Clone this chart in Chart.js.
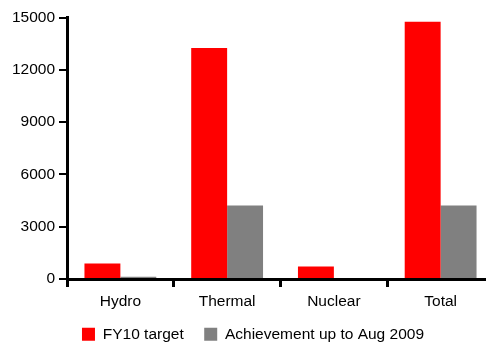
<!DOCTYPE html>
<html>
<head>
<meta charset="utf-8">
<script src="https://cdn.jsdelivr.net/npm/chart.js@4.4.0/dist/chart.umd.min.js"></script>
<style>
  html, body { margin: 0; padding: 0; background: #fff; overflow: hidden; }
  #wrap { width: 486px; height: 347px; overflow: hidden; }
  #box { width: 506px; height: 347px; }
</style>
</head>
<body>
<div id="wrap"><div id="box"><canvas id="chart"></canvas></div></div>
<script>
const categories = ['Hydro', 'Thermal', 'Nuclear', 'Total'];
const fy10Target = [890, 13250, 720, 14750];
const achievement = [125, 4220, 0, 4220];
const yTicks = [0, 3000, 6000, 9000, 12000, 15000];

const font = { family: "'Liberation Sans', Arial, sans-serif", size: 15.5 };

new Chart(document.getElementById('chart'), {
    type: 'bar',
    data: {
        labels: categories,
        datasets: [
            {
                label: 'FY10 target\u2003',
                data: fy10Target,
                backgroundColor: '#ff0000'
            },
            {
                label: 'Achievement up to Aug 2009',
                data: achievement,
                backgroundColor: '#808080'
            }
        ]
    },
    options: {
        responsive: true,
        maintainAspectRatio: false,
        animation: false,
        layout: { padding: { top: 17.5, left: 0, right: 0, bottom: -5 } },
        datasets: { bar: { categoryPercentage: 0.673, barPercentage: 1 } },
        plugins: {
            tooltip: { enabled: false },
            legend: {
                position: 'bottom',
                labels: {
                    color: '#000',
                    font,
                    boxWidth: 13,
                    boxHeight: 13,
                    padding: 5
                }
            }
        },
        scales: {
            x: {
                grid: {
                    drawOnChartArea: false,
                    drawTicks: true,
                    tickLength: 8,
                    color: '#000',
                    lineWidth: 3
                },
                border: { color: '#000', width: 3 },
                ticks: { color: '#000', font, padding: 5 },
                afterFit: s => { s.height = 42.5; }
            },
            y: {
                min: 0,
                max: 15000,
                afterBuildTicks: s => { s.ticks = yTicks.map(v => ({ value: v })); },
                grid: {
                    drawOnChartArea: false,
                    drawTicks: true,
                    tickLength: 8,
                    color: '#000',
                    lineWidth: 2
                },
                border: { color: '#000', width: 3 },
                ticks: { color: '#000', font, padding: 4, callback: v => String(v) },
                afterFit: s => { s.width = 67; }
            },
            // empty right-hand strip so the plot ends where the original does
            spacer: {
                type: 'linear',
                position: 'right',
                grid: { display: false },
                border: { display: false },
                ticks: { display: false },
                afterFit: s => { s.width = 12; }
            }
        }
    }
});
</script>
</body>
</html>
